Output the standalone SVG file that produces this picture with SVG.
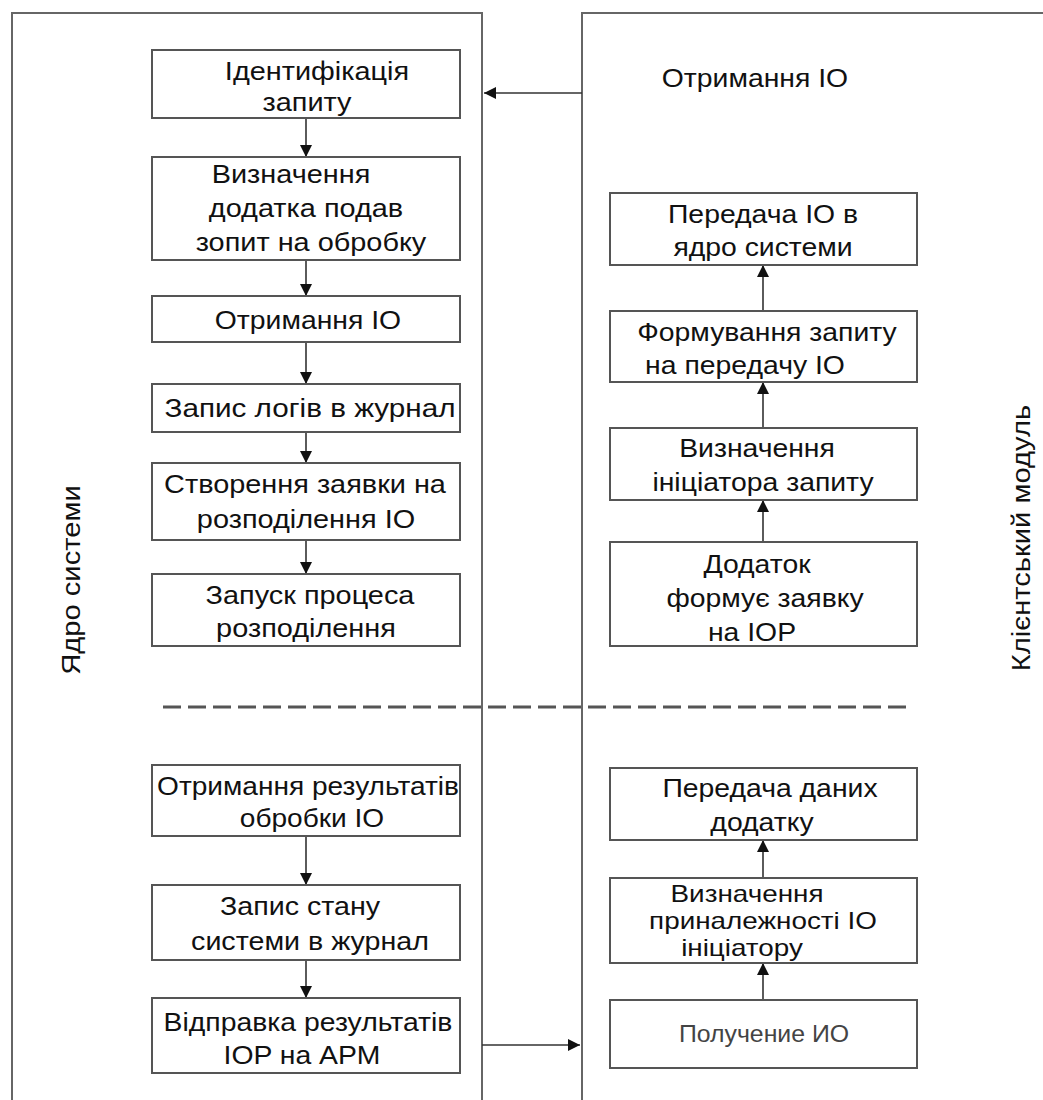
<svg xmlns="http://www.w3.org/2000/svg" width="1043" height="1100" viewBox="0 0 1043 1100">
  <defs>
    <marker id="arrowBig" viewBox="0 0 10 10" refX="10" refY="5" markerWidth="16" markerHeight="12" orient="auto" markerUnits="userSpaceOnUse">
      <path d="M0,0 L10,5 L0,10 z" fill="#111"/>
    </marker>
    <style>
      .frame { fill: none; stroke: #666; stroke-width: 2; }
      .box { fill: #fff; stroke: #555; stroke-width: 2; }
      .conn { fill: none; stroke: #333; stroke-width: 1.6; }
      .dash { fill: none; stroke: #555; stroke-width: 3; stroke-dasharray: 18 7; }
      .t { font-family: "Liberation Sans", Arial, sans-serif; font-size: 26.5px; fill: #111; text-anchor: middle; }
      .ts { font-family: "Liberation Sans", Arial, sans-serif; font-size: 24px; fill: #111; text-anchor: middle; }
      .tg { font-family: "Liberation Sans", Arial, sans-serif; font-size: 23px; fill: #444; text-anchor: middle; }
    </style>
  </defs>

  <rect width="1043" height="1100" fill="#fff"/>

  <!-- swimlane frames -->
  <g id="lanes">
    <path class="frame" d="M12,1100 V13 H482 V1100"/>
    <path class="frame" d="M582,1100 V13 H1043"/>
    <text class="t" transform="translate(80,580) rotate(-90) scale(1.1,1)">Ядро системи</text>
    <text class="t" transform="translate(1030,538) rotate(-90) scale(1.1,1)">Клієнтський модуль</text>
    <text class="t" transform="translate(755,87) scale(1.07,1)">Отримання IO</text>
  </g>

  <!-- phase separator -->
  <line class="dash" x1="163" y1="707" x2="908" y2="707"/>

  <!-- connectors -->
  <g id="connectors">
    <line class="conn" x1="582" y1="93" x2="484" y2="93" marker-end="url(#arrowBig)"/>
    <line class="conn" x1="482" y1="1045" x2="580" y2="1045" marker-end="url(#arrowBig)"/>
    <line class="conn" x1="306" y1="118" x2="306" y2="157" marker-end="url(#arrowBig)"/>
    <line class="conn" x1="306" y1="260" x2="306" y2="296" marker-end="url(#arrowBig)"/>
    <line class="conn" x1="306" y1="342" x2="306" y2="384" marker-end="url(#arrowBig)"/>
    <line class="conn" x1="306" y1="432" x2="306" y2="463" marker-end="url(#arrowBig)"/>
    <line class="conn" x1="306" y1="540" x2="306" y2="574" marker-end="url(#arrowBig)"/>
    <line class="conn" x1="306" y1="836" x2="306" y2="885" marker-end="url(#arrowBig)"/>
    <line class="conn" x1="306" y1="960" x2="306" y2="998" marker-end="url(#arrowBig)"/>
    <line class="conn" x1="763" y1="311" x2="763" y2="265" marker-end="url(#arrowBig)"/>
    <line class="conn" x1="763" y1="428" x2="763" y2="382" marker-end="url(#arrowBig)"/>
    <line class="conn" x1="763" y1="542" x2="763" y2="500" marker-end="url(#arrowBig)"/>
    <line class="conn" x1="763" y1="878" x2="763" y2="840" marker-end="url(#arrowBig)"/>
    <line class="conn" x1="763" y1="1000" x2="763" y2="963" marker-end="url(#arrowBig)"/>
  </g>

  <!-- system core steps -->
  <g id="n-ident">
    <rect class="box" x="152" y="50" width="308" height="68"/>
    <text class="t" transform="translate(317,80) scale(1.09,1)">Ідентифікація</text>
    <text class="t" transform="translate(307,111) scale(1.09,1)">запиту</text>
  </g>
  <g id="n-app">
    <rect class="box" x="152" y="157" width="308" height="103"/>
    <text class="t" transform="translate(291,183) scale(1.09,1)">Визначення</text>
    <text class="t" transform="translate(306,217) scale(1.09,1)">додатка подав</text>
    <text class="t" transform="translate(311,251) scale(1.09,1)">зопит на обробку</text>
  </g>
  <g id="n-recv">
    <rect class="box" x="152" y="296" width="308" height="46"/>
    <text class="t" transform="translate(308,329) scale(1.07,1)">Отримання IO</text>
  </g>
  <g id="n-log">
    <rect class="box" x="152" y="384" width="308" height="48"/>
    <text class="t" transform="translate(310,417) scale(1.12,1)">Запис логів в журнал</text>
  </g>
  <g id="n-request">
    <rect class="box" x="152" y="463" width="308" height="77"/>
    <text class="t" transform="translate(305,493) scale(1.09,1)">Створення заявки на</text>
    <text class="t" transform="translate(306,528) scale(1.09,1)">розподілення IO</text>
  </g>
  <g id="n-start">
    <rect class="box" x="152" y="574" width="308" height="72"/>
    <text class="t" transform="translate(310,604) scale(1.09,1)">Запуск процеса</text>
    <text class="t" transform="translate(306,637) scale(1.09,1)">розподілення</text>
  </g>
  <g id="n-results">
    <rect class="box" x="152" y="765" width="308" height="71"/>
    <text class="t" transform="translate(308,795) scale(1.06,1)">Отримання результатів</text>
    <text class="t" transform="translate(312,827) scale(1.06,1)">обробки IO</text>
  </g>
  <g id="n-state">
    <rect class="box" x="152" y="885" width="308" height="75"/>
    <text class="t" transform="translate(300,915) scale(1.08,1)">Запис стану</text>
    <text class="t" transform="translate(310,950) scale(1.08,1)">системи в журнал</text>
  </g>
  <g id="n-send">
    <rect class="box" x="152" y="998" width="308" height="75"/>
    <text class="t" transform="translate(308,1031) scale(1.07,1)">Відправка результатів</text>
    <text class="t" transform="translate(302,1064) scale(1.07,1)">IOP на APM</text>
  </g>

  <!-- client module steps -->
  <g id="n-pass">
    <rect class="box" x="610" y="193" width="307" height="72"/>
    <text class="t" transform="translate(763,223) scale(1.07,1)">Передача IO в</text>
    <text class="t" transform="translate(763,256) scale(1.07,1)">ядро системи</text>
  </g>
  <g id="n-form">
    <rect class="box" x="610" y="311" width="307" height="71"/>
    <text class="t" transform="translate(767,341) scale(1.07,1)">Формування запиту</text>
    <text class="t" transform="translate(745,374) scale(1.07,1)">на передачу IO</text>
  </g>
  <g id="n-init">
    <rect class="box" x="610" y="428" width="307" height="72"/>
    <text class="t" transform="translate(757,457) scale(1.07,1)">Визначення</text>
    <text class="t" transform="translate(763,491) scale(1.07,1)">ініціатора запиту</text>
  </g>
  <g id="n-apply">
    <rect class="box" x="610" y="542" width="307" height="104"/>
    <text class="t" transform="translate(757,573) scale(1.07,1)">Додаток</text>
    <text class="t" transform="translate(765,607) scale(1.07,1)">формує заявку</text>
    <text class="t" transform="translate(752,641) scale(1.07,1)">на IOP</text>
  </g>
  <g id="n-data">
    <rect class="box" x="610" y="768" width="307" height="72"/>
    <text class="t" transform="translate(770,797) scale(1.07,1)">Передача даних</text>
    <text class="t" transform="translate(762,831) scale(1.07,1)">додатку</text>
  </g>
  <g id="n-owner">
    <rect class="box" x="610" y="878" width="307" height="85"/>
    <text class="ts" transform="translate(747,902) scale(1.16,1)">Визначення</text>
    <text class="ts" transform="translate(763,929) scale(1.16,1)">приналежності IO</text>
    <text class="ts" transform="translate(742,956) scale(1.16,1)">ініціатору</text>
  </g>
  <g id="n-get">
    <rect class="box" x="610" y="1000" width="307" height="68"/>
    <text class="tg" transform="translate(764,1042) scale(1.08,1)">Получение ИО</text>
  </g>
</svg>
